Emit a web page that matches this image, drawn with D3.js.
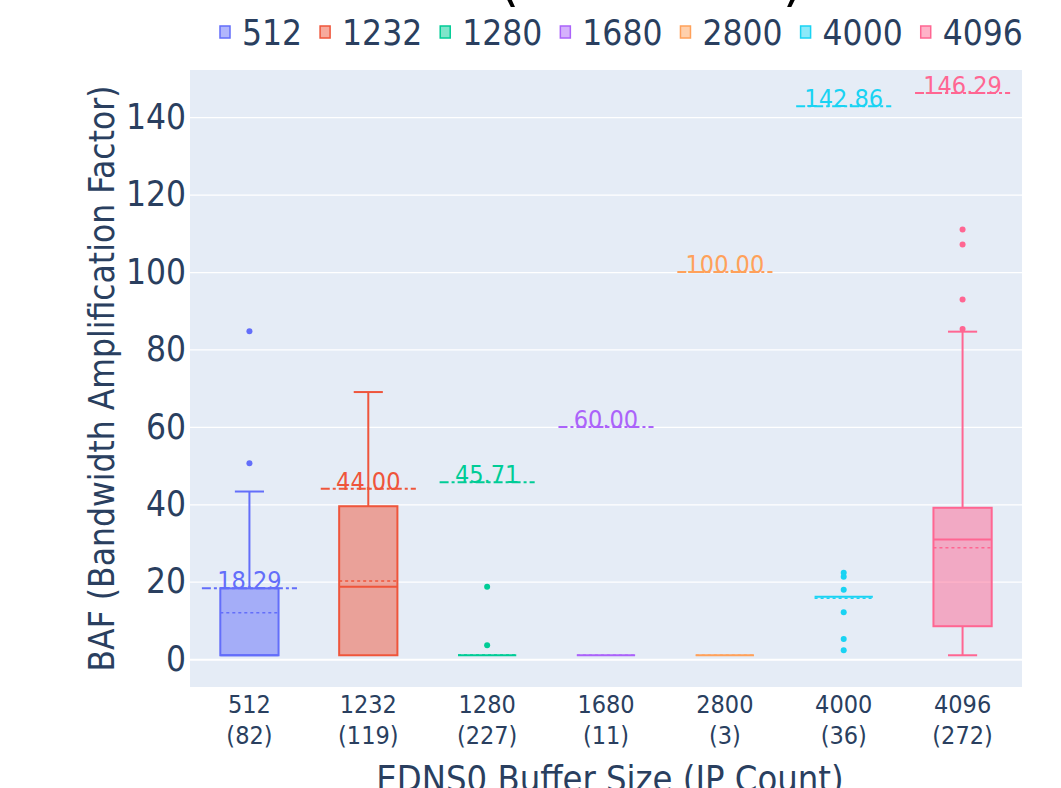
<!DOCTYPE html>
<html>
<head>
<meta charset="utf-8">
<script src="https://cdn.jsdelivr.net/npm/d3@7"></script>
<style>
  body { margin: 0; background: #fff; }
  text { font-family: "DejaVu Sans Condensed", "DejaVu Sans", sans-serif; }
</style>
</head>
<body>
<div id="chart"></div>
<script>
// values
var categories = ["512", "1232", "1280", "1680", "2800", "4000", "4096"];
var ipCounts = [82, 119, 227, 11, 3, 36, 272];
var lowerFence = [1.0, 1.0, 1.0, 1.0, 1.0, 16.1, 1.0];
var q1 = [1.0, 1.0, 1.0, 1.0, 1.0, 16.1, 8.5];
var medians = [1.0, 18.7, 1.0, 1.0, 1.0, 16.1, 30.9];
var q3 = [18.29, 39.5, 1.0, 1.0, 1.0, 16.1, 39.1];
var upperFence = [43.3, 69.0, 1.0, 1.0, 1.0, 16.1, 84.6];
var means = [12.0, 20.2, 1.08, 1.0, 1.0, 15.7, 28.8];
var outliers = [
    [50.6, 84.7],
    [],
    [3.6, 18.7],
    [],
    [],
    [2.3, 5.2, 12.1, 17.9, 21.3, 22.3],
    [85.3, 92.9, 107.1, 111.0]
];
var maxBaf = [18.29, 44.00, 45.71, 60.00, 100.00, 142.86, 146.29];
var yTicks = [0, 20, 40, 60, 80, 100, 120, 140];
var colors = ["#636efa", "#EF553B", "#00cc96", "#ab63fa", "#FFA15A", "#19d3f3", "#FF6692"];

var width = 1061, height = 788;
var margin = {left: 190, right: 39, top: 70, bottom: 101};
var textColor = "#2a3f5f";

var svg = d3.select("#chart")
    .append("svg")
    .attr("width", width)
    .attr("height", height)
    .style("display", "block");

var x = d3.scaleBand()
    .domain(categories)
    .range([margin.left, width - margin.right]);

var y = d3.scaleLinear()
    .domain([-7.2, 152.2])
    .range([height - margin.bottom, margin.top]);

var color = d3.scaleOrdinal().domain(categories).range(colors);

// plot background
svg.append("rect")
    .attr("x", margin.left)
    .attr("y", margin.top)
    .attr("width", width - margin.left - margin.right)
    .attr("height", height - margin.top - margin.bottom)
    .attr("fill", "#E5ECF6");

// y axis with gridlines
var yAxis = svg.append("g")
    .attr("transform", "translate(" + margin.left + ",0)")
    .call(d3.axisLeft(y)
        .tickValues(yTicks)
        .tickSize(-(width - margin.left - margin.right))
        .tickPadding(4));
yAxis.select(".domain").remove();
yAxis.selectAll(".tick line")
    .attr("stroke", "#fff")
    .attr("stroke-width", function(d) { return d === 0 ? 2 : 1.3; });
yAxis.selectAll(".tick text")
    .attr("fill", textColor)
    .attr("font-size", 35)
    .attr("font-family", null);

// x axis: two-line labels
var xAxis = svg.append("g")
    .attr("transform", "translate(0," + (height - margin.bottom) + ")")
    .call(d3.axisBottom(x).tickSize(0).tickFormat(""));
xAxis.select(".domain").remove();
xAxis.selectAll(".tick text").remove();
xAxis.selectAll(".tick").each(function(d, i) {
    var t = d3.select(this).append("text")
        .attr("fill", textColor)
        .attr("font-size", 25)
        .attr("text-anchor", "middle");
    t.append("tspan").attr("x", 0).attr("y", 26).text(d);
    t.append("tspan").attr("x", 0).attr("y", 57).text("(" + ipCounts[i] + ")");
});

// axis titles
svg.append("text")
    .attr("x", (margin.left + width - margin.right) / 2 + 4)
    .attr("y", 791)
    .attr("text-anchor", "middle")
    .attr("fill", textColor)
    .attr("font-size", 36)
    .text("EDNS0 Buffer Size (IP Count)");

svg.append("text")
    .attr("transform", "translate(114," + ((margin.top + height - margin.bottom) / 2) + ") rotate(-90)")
    .attr("text-anchor", "middle")
    .attr("fill", textColor)
    .attr("font-size", 35)
    .text("BAF (Bandwidth Amplification Factor)");

// chart title, sits above the visible area: only the parentheses peek in
var title = svg.append("text")
    .attr("x", 651)
    .attr("y", -1)
    .attr("text-anchor", "middle")
    .attr("fill", "#000")
    .attr("font-size", 46);
title.append("tspan").attr("font-size", 60).text("(");
title.append("tspan").text("All Resolvers");
title.append("tspan").attr("font-size", 60).text(")");

// boxes
var bw = x.bandwidth() * 0.49;
var rows = categories.map(function(c, i) {
    return {cat: c, lo: lowerFence[i], q1: q1[i], med: medians[i], q3: q3[i],
            hi: upperFence[i], mean: means[i], out: outliers[i], max: maxBaf[i]};
});

var box = svg.selectAll(".box")
    .data(rows)
    .enter()
    .append("g")
    .attr("class", "box")
    .attr("transform", function(d) {
        return "translate(" + (x(d.cat) + x.bandwidth() / 2) + ",0)";
    });

// whiskers
box.append("line")
    .attr("x1", 0).attr("x2", 0)
    .attr("y1", function(d) { return y(d.q3); })
    .attr("y2", function(d) { return y(d.hi); })
    .attr("stroke", function(d) { return color(d.cat); })
    .attr("stroke-width", 2);
box.append("line")
    .attr("x1", 0).attr("x2", 0)
    .attr("y1", function(d) { return y(d.q1); })
    .attr("y2", function(d) { return y(d.lo); })
    .attr("stroke", function(d) { return color(d.cat); })
    .attr("stroke-width", 2);
box.filter(function(d) { return d.hi > d.q3; })
    .append("line")
    .attr("x1", -bw / 4).attr("x2", bw / 4)
    .attr("y1", function(d) { return y(d.hi); })
    .attr("y2", function(d) { return y(d.hi); })
    .attr("stroke", function(d) { return color(d.cat); })
    .attr("stroke-width", 2);
box.filter(function(d) { return d.lo < d.q1; })
    .append("line")
    .attr("x1", -bw / 4).attr("x2", bw / 4)
    .attr("y1", function(d) { return y(d.lo); })
    .attr("y2", function(d) { return y(d.lo); })
    .attr("stroke", function(d) { return color(d.cat); })
    .attr("stroke-width", 2);

// box body
box.append("rect")
    .attr("x", -bw / 2)
    .attr("width", bw)
    .attr("y", function(d) { return y(d.q3); })
    .attr("height", function(d) { return y(d.q1) - y(d.q3); })
    .attr("fill", function(d) { return color(d.cat); })
    .attr("fill-opacity", 0.5)
    .attr("stroke", function(d) { return color(d.cat); })
    .attr("stroke-width", 2);

// median
box.append("line")
    .attr("x1", -bw / 2).attr("x2", bw / 2)
    .attr("y1", function(d) { return y(d.med); })
    .attr("y2", function(d) { return y(d.med); })
    .attr("stroke", function(d) { return color(d.cat); })
    .attr("stroke-width", 2);

// mean, dashed
box.append("line")
    .attr("x1", -bw / 2).attr("x2", bw / 2)
    .attr("y1", function(d) { return y(d.mean); })
    .attr("y2", function(d) { return y(d.mean); })
    .attr("stroke", function(d) { return color(d.cat); })
    .attr("stroke-width", 1.5)
    .attr("stroke-dasharray", "3,3");

// outliers
box.selectAll(".pt")
    .data(function(d) { return d.out.map(function(v) { return {cat: d.cat, v: v}; }); })
    .enter()
    .append("circle")
    .attr("class", "pt")
    .attr("cx", 0)
    .attr("cy", function(d) { return y(d.v); })
    .attr("r", 3)
    .attr("fill", function(d) { return color(d.cat); });

// max BAF line with label
var lw = x.bandwidth() * 0.8;
box.append("line")
    .attr("x1", -lw / 2).attr("x2", lw / 2)
    .attr("y1", function(d) { return y(d.max); })
    .attr("y2", function(d) { return y(d.max); })
    .attr("stroke", function(d) { return color(d.cat); })
    .attr("stroke-width", 2)
    .attr("stroke-dasharray", "9,3,3,3");
box.append("text")
    .attr("x", 0)
    .attr("y", function(d) { return y(d.max) + 1; })
    .attr("text-anchor", "middle")
    .attr("font-size", 25)
    .attr("fill", function(d) { return color(d.cat); })
    .text(function(d) { return d.max.toFixed(2); });

// legend
var legend = svg.append("g");
var lx = 220;
categories.forEach(function(c) {
    legend.append("rect")
        .attr("x", lx)
        .attr("y", 26)
        .attr("width", 10)
        .attr("height", 12)
        .attr("fill", color(c))
        .attr("fill-opacity", 0.5)
        .attr("stroke", color(c))
        .attr("stroke-width", 1.5);
    var t = legend.append("text")
        .attr("x", lx + 22)
        .attr("y", 45)
        .attr("fill", textColor)
        .attr("font-size", 35)
        .text(c);
    lx += 22 + t.node().getComputedTextLength() + 18;
});
</script>
</body>
</html>
